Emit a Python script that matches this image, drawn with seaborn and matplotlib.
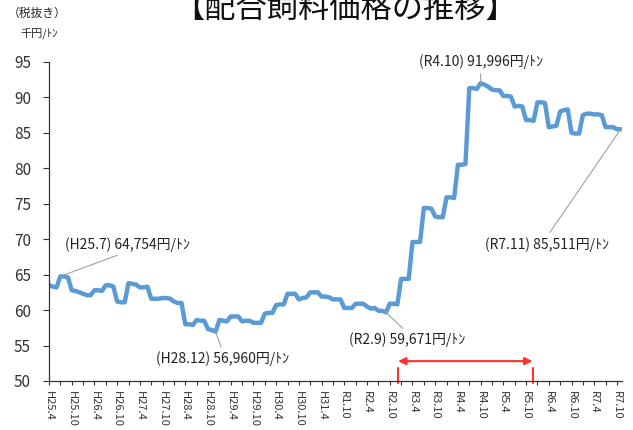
import numpy as np
import pandas as pd
import matplotlib
matplotlib.use("Agg")
import matplotlib.pyplot as plt
import seaborn as sns

# 配合飼料価格（全畜種平均・税抜き、千円/ﾄﾝ）月次 H25.4 〜 R7.11
price = [
    63.5, 63.3, 63.2, 64.754, 64.75, 64.6, 62.8, 62.7, 62.5, 62.3, 62.1, 62.1,   # H25.4-H26.3
    62.8, 62.8, 62.7, 63.5, 63.5, 63.3, 61.2, 61.1, 61.1, 63.8, 63.7, 63.6,      # H26.4-H27.3
    63.2, 63.2, 63.3, 61.6, 61.6, 61.6, 61.7, 61.7, 61.6, 61.2, 61.0, 61.0,      # H27.4-H28.3
    58.0, 58.0, 57.9, 58.6, 58.5, 58.5, 57.3, 57.2, 56.96, 58.6, 58.5, 58.4,     # H28.4-H29.3
    59.1, 59.1, 59.1, 58.4, 58.5, 58.5, 58.2, 58.2, 58.2, 59.5, 59.6, 59.6,      # H29.4-H30.3
    60.7, 60.8, 60.8, 62.3, 62.3, 62.3, 61.5, 61.7, 61.8, 62.5, 62.5, 62.5,      # H30.4-H31.3
    61.9, 61.9, 61.8, 61.5, 61.5, 61.5, 60.3, 60.3, 60.3, 60.9, 60.9, 60.9,      # H31.4-R2.3
    60.5, 60.2, 60.3, 59.9, 59.9, 59.671, 60.9, 60.9, 60.8, 64.4, 64.4, 64.4,    # R2.4-R3.3
    69.6, 69.6, 69.6, 74.4, 74.4, 74.3, 73.2, 73.1, 73.1, 75.9, 75.9, 75.8,      # R3.4-R4.3
    80.5, 80.5, 80.6, 91.3, 91.3, 91.2, 91.996, 91.8, 91.5, 91.1, 91.0, 91.0,    # R4.4-R5.3
    90.2, 90.2, 90.1, 88.7, 88.8, 88.7, 86.8, 86.8, 86.7, 89.3, 89.3, 89.2,      # R5.4-R6.3
    85.8, 85.9, 86.0, 88.0, 88.2, 88.3, 85.0, 84.9, 84.9, 87.5, 87.7, 87.7,      # R6.4-R7.3
    87.6, 87.6, 87.5, 85.8, 85.8, 85.8, 85.5, 85.511,                            # R7.4-R7.11
]

# 半年ごとの目盛ラベル
tick_labels = [
    "H25.4", "H25.10", "H26.4", "H26.10", "H27.4", "H27.10", "H28.4", "H28.10",
    "H29.4", "H29.10", "H30.4", "H30.10", "H31.4", "R1.10", "R2.4", "R2.10",
    "R3.4", "R3.10", "R4.4", "R4.10", "R5.4", "R5.10", "R6.4", "R6.10",
    "R7.4", "R7.10",
]

# 注記（月インデックス, ラベル）
note_month = [3, 44, 89, 114, 151]
note_text = [
    "(H25.7) 64,754円/ﾄﾝ",
    "(H28.12) 56,960円/ﾄﾝ",
    "(R2.9) 59,671円/ﾄﾝ",
    "(R4.10) 91,996円/ﾄﾝ",
    "(R7.11) 85,511円/ﾄﾝ",
]
# 注記テキストの位置（データ座標）
note_pos = [(20.7, 69.3), (45.9, 53.1), (94.6, 55.8), (114.0, 95.0), (131.5, 69.3)]

# 赤矢印の範囲（月インデックス）
span = (92.2, 127.7)

sns.set_style("ticks")
plt.rcParams["font.family"] = ["Noto Sans CJK JP", "DejaVu Sans"]

df = pd.DataFrame({"month": np.arange(len(price)), "price": price})

fig = plt.figure(figsize=(6.33, 4.30), dpi=100)
ax = fig.add_axes([0.0774, 0.114, 0.905, 0.742])

sns.lineplot(data=df, x="month", y="price", color="#5B9BD5", linewidth=3.2, ax=ax)

ax.set_xlim(0, 151.3)
ax.set_ylim(50, 95)
ax.set_yticks(np.arange(50, 96, 5))
xt = np.arange(0, len(price), 3)
ax.set_xticks(xt)
ax.set_xticklabels([tick_labels[i // 2] if i % 2 == 0 else "" for i in range(len(xt))],
                   rotation=270, fontsize=8, va="top", ha="center")
ax.tick_params(axis="x", length=3, width=0.8, pad=4, colors="#333333")
ax.tick_params(axis="y", length=4, width=0.8, labelsize=11, pad=9, colors="#333333")
ax.set_xlabel("")
ax.set_ylabel("")
sns.despine(ax=ax)
for s in ["left", "bottom"]:
    ax.spines[s].set_color("#333333")
    ax.spines[s].set_linewidth(0.9)

for m, txt, pos in zip(note_month, note_text, note_pos):
    rel = (0.5, 0) if pos[1] > price[m] else (0.5, 1)
    ax.annotate(txt, xy=(m, price[m]), xytext=pos, ha="center", va="center",
                fontsize=10, color="#222222", annotation_clip=False,
                arrowprops=dict(arrowstyle="-", color="#A0A0A0", lw=0.8,
                                relpos=rel, shrinkA=1, shrinkB=0))

red = "#FF3030"
ax.annotate("", xy=(span[1], 52.8), xytext=(span[0], 52.8),
            arrowprops=dict(arrowstyle="<|-|>", color=red, lw=1.5,
                            mutation_scale=11, shrinkA=0, shrinkB=0))
for xv in span:
    ax.plot([xv, xv], [49.7, 51.8], color=red, lw=1.5, clip_on=False)

fig.text(0.545, 0.98, "【配合飼料価格の推移】", ha="center", va="center", fontsize=22.5, color="#111111")
fig.text(0.058, 0.97, "（税抜き）", ha="center", va="center", fontsize=8.5)
fig.text(0.062, 0.923, "千円/ﾄﾝ", ha="center", va="center", fontsize=8)

fig.savefig("out.png", dpi=100)
